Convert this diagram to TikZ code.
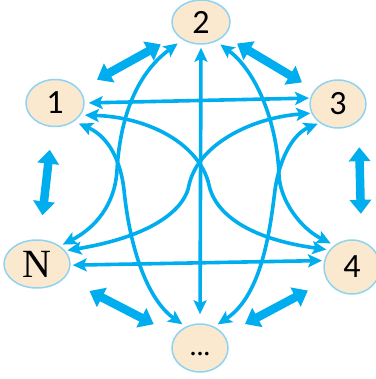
\documentclass[tikz,border=0pt]{standalone}
\usepackage{fontspec}
\setmainfont{Liberation Serif}
\newfontfamily\digitfont{Carlito}
\usetikzlibrary{shapes.geometric,arrows.meta}
\definecolor{arrowc}{HTML}{00AEEF}
\definecolor{nodefill}{HTML}{FAE9CF}
\definecolor{nodeborder}{HTML}{8FD3F2}
\tikzset{
  nd/.style={ellipse, draw=nodeborder, line width=1.5pt, fill=nodefill, inner sep=0pt},
  digit/.style={font=\digitfont\fontsize{34}{36}\selectfont},
  conn/.style={draw=arrowc, line width=3.6pt,
    {Stealth[length=14pt,width=13pt,inset=3pt]}-{Stealth[length=14pt,width=13pt,inset=3pt]}},
  bigarrow/.style={draw=arrowc, line width=8.5pt,
    {Triangle[length=14pt,width=21pt]}-{Triangle[length=14pt,width=21pt]}}
}
\begin{document}
\begin{tikzpicture}[x=1pt,y=-1pt]
\useasboundingbox (0,0) rectangle (375,379);
\fill[white] (0,0) rectangle (375,379);
% nodes
\node[nd, digit, minimum width=58pt, minimum height=44pt] (n2) at (201,22) {2};
\node[nd, digit, minimum width=58pt, minimum height=47pt] (n1) at (55,103) {1};
\node[nd, digit, minimum width=56pt, minimum height=48pt] (n3) at (338,104) {3};
\node[nd, font=\fontsize{40}{42}\selectfont, minimum width=66pt, minimum height=48pt] (nN) at (37,264) {N};
\node[nd, digit, minimum width=56pt, minimum height=54pt] (n4) at (352,267) {4};
\node[nd, font=\bfseries\fontsize{22}{24}\selectfont, minimum width=56pt, minimum height=48pt] (nd) at (200,348) {\vphantom{A}.\kern1.5pt.\kern1.5pt.};
% thin connectors
\draw[conn, shorten <=4pt, shorten >=1pt] (n1.east) -- (n3.168);
\draw[conn, shorten <=2pt, shorten >=2pt] (nN.-2) -- (n4.167);
\draw[conn, shorten <=3pt, shorten >=9pt] (n2.south) -- (nd.north);
\draw[conn, shorten <=6pt, shorten >=3pt] (n2.224) .. controls (135,75) and (120,120) .. (117,170) .. controls (115,205) and (95,228) .. (nN.38);
\draw[conn, shorten <=5pt, shorten >=4pt] (n2.-52) .. controls (255,70) and (277,120) .. (279,175) .. controls (280,200) and (300,228) .. (n4.129);
\draw[conn, shorten <=5pt, shorten >=4pt] (n1.-44) .. controls (105,135) and (120,155) .. (124,190) .. controls (130,250) and (148,300) .. (nd.124);
\draw[conn, shorten <=2pt, shorten >=4pt] (n3.226) .. controls (295,133) and (280,155) .. (275,190) .. controls (270,230) and (262,295) .. (nd.56);
\draw[conn, shorten <=4pt, shorten >=3pt] (n1.-25) .. controls (150,117) and (200,145) .. (209,185) .. controls (213,205) and (235,237) .. (n4.143);
\draw[conn, shorten <=1pt, shorten >=2pt] (n3.199) .. controls (250,118) and (198,145) .. (189,185) .. controls (186,205) and (160,235) .. (nN.25);
% thick double arrows
\draw[bigarrow, shorten <=48pt, shorten >=46pt] (n1.center) -- (n2.center);
\draw[bigarrow, shorten <=42pt, shorten >=42pt] (n2.center) -- (n3.center);
\draw[bigarrow, shorten <=47pt, shorten >=49pt] (n1.center) -- (nN.center);
\draw[bigarrow, shorten <=26pt, shorten >=27pt] (n3.-40) -- (n4.70);
\draw[bigarrow, shorten <=59pt, shorten >=52pt] (nN.center) -- (nd.center);
\draw[bigarrow, shorten <=50pt, shorten >=51pt] (n4.center) -- (nd.center);
\end{tikzpicture}
\end{document}
